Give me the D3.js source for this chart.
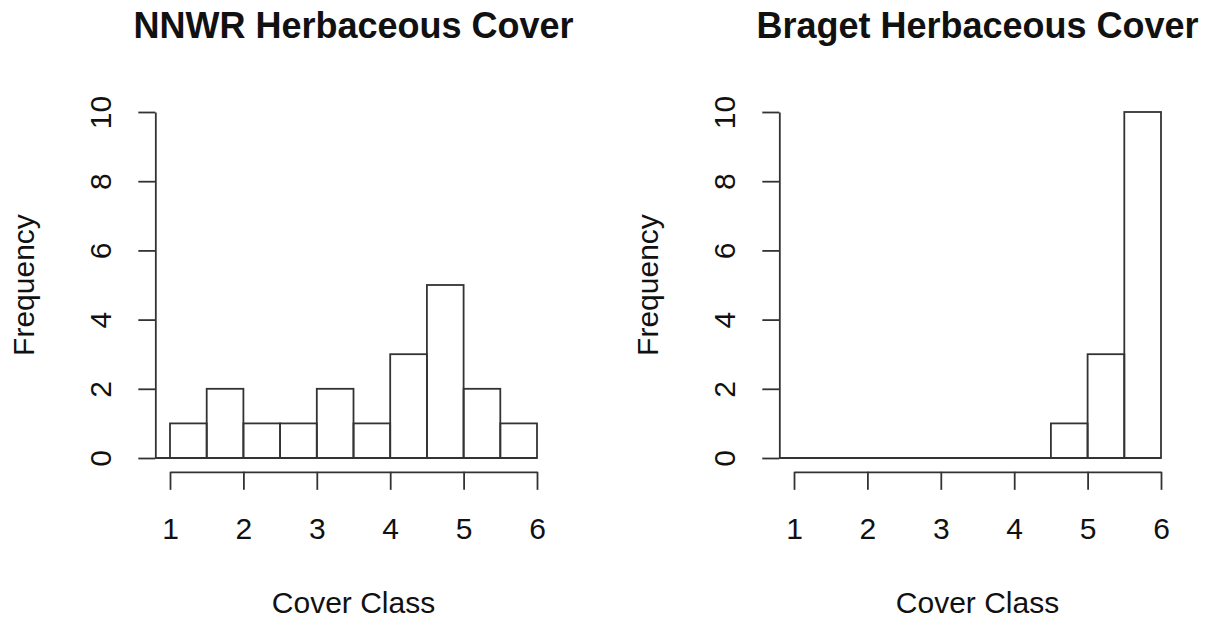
<!DOCTYPE html>
<html>
<head>
<meta charset="utf-8">
<script src="https://cdn.jsdelivr.net/npm/d3@7"></script>
<style>
  body { margin: 0; background: #fff; }
  svg { display: block; font-family: "Liberation Sans", Arial, Helvetica, sans-serif; }
  .axis path, .axis line { stroke: #333; stroke-width: 1.8; }
  .axis text { fill: #111; font-size: 30px; }
</style>
</head>
<body>
<div id="chart"></div>
<script>
// Histogram bin edges (cover class)
const breaks = [1, 1.5, 2, 2.5, 3, 3.5, 4, 4.5, 5, 5.5, 6];
// Counts per bin
const nnwrCounts = [1, 2, 1, 1, 2, 1, 3, 5, 2, 1];
const bragetCounts = [0, 0, 0, 0, 0, 0, 0, 1, 3, 10];
const titles = ["NNWR Herbaceous Cover", "Braget Herbaceous Cover"];
const xTicks = [1, 2, 3, 4, 5, 6];
const yTicks = [0, 2, 4, 6, 8, 10];

const W = 1210, H = 619;
const panelOffset = 624;

const svg = d3.select("#chart")
    .append("svg")
    .attr("width", W)
    .attr("height", H);

function drawHist(counts, title, offset) {
    const g = svg.append("g")
        .attr("transform", `translate(${offset},0)`);

    const x = d3.scaleLinear().domain([1, 6]).range([170, 537]);
    const y = d3.scaleLinear().domain([0, 10]).range([458, 112]);

    // R-style 4% extension of the plot region
    const xLeft = x(1 - 0.04 * 5);
    const yBottom = y(-0.04 * 10);

    const bins = counts.map((c, i) => ({x0: breaks[i], x1: breaks[i + 1], n: c}));

    // baseline
    g.append("line")
        .attr("x1", xLeft)
        .attr("x2", x(6))
        .attr("y1", y(0))
        .attr("y2", y(0))
        .style("stroke", "#333")
        .style("stroke-width", 1.8);

    // bars
    g.selectAll("rect.bar")
        .data(bins)
        .enter()
        .append("rect")
        .attr("class", "bar")
        .attr("x", d => x(d.x0))
        .attr("width", d => x(d.x1) - x(d.x0))
        .attr("y", d => y(d.n))
        .attr("height", d => y(0) - y(d.n))
        .style("fill", "none")
        .style("stroke", "#333")
        .style("stroke-width", 1.8);

    // x axis
    const xAxis = g.append("g")
        .attr("class", "axis")
        .attr("transform", `translate(0,${yBottom})`)
        .call(d3.axisBottom(x).tickValues(xTicks).tickSize(18).tickSizeOuter(0).tickFormat(d3.format("d")));
    xAxis.selectAll("text")
        .attr("y", 67)
        .attr("dy", 0);

    // y axis
    const yAxis = g.append("g")
        .attr("class", "axis")
        .attr("transform", `translate(${xLeft},0)`)
        .call(d3.axisLeft(y).tickValues(yTicks).tickSize(17).tickSizeOuter(0).tickFormat(d3.format("d")));
    yAxis.selectAll("text")
        .attr("x", 0)
        .attr("dy", 0)
        .attr("text-anchor", "middle")
        .attr("transform", `translate(${111 - xLeft},0) rotate(-90)`);

    // labels
    g.append("text")
        .attr("x", (xLeft + x(6.2)) / 2)
        .attr("y", 38)
        .attr("text-anchor", "middle")
        .style("font-size", "36px")
        .style("font-weight", "bold")
        .style("fill", "#111")
        .text(title);

    g.append("text")
        .attr("x", (xLeft + x(6.2)) / 2)
        .attr("y", 613)
        .attr("text-anchor", "middle")
        .style("font-size", "30px")
        .style("fill", "#111")
        .text("Cover Class");

    g.append("text")
        .attr("transform", `translate(34,${(yBottom + y(10.4)) / 2}) rotate(-90)`)
        .attr("text-anchor", "middle")
        .style("font-size", "30px")
        .style("fill", "#111")
        .text("Frequency");
}

drawHist(nnwrCounts, titles[0], 0);
drawHist(bragetCounts, titles[1], panelOffset);
</script>
</body>
</html>
